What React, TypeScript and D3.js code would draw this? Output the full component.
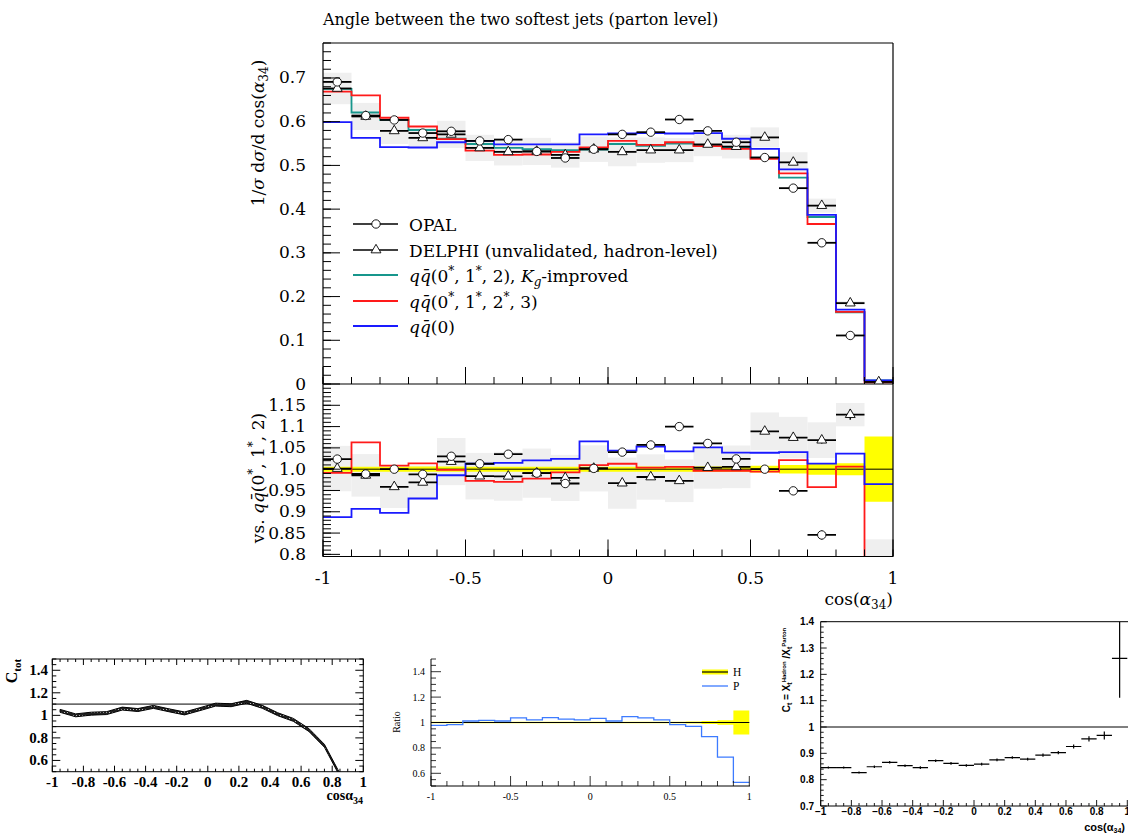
import React from 'react';
import * as d3 from 'd3';

// ---------- main plot data (20 bins in cos(alpha34), width 0.1) ----------
const binCount = 20;
const edges = d3.range(binCount + 1).map(i => -1 + i / 10);
const centers = d3.range(binCount).map(i => -0.95 + i / 10);

const opal = [0.691, 0.614, 0.604, 0.574, 0.578, 0.556, 0.559, 0.532, 0.517, 0.537, 0.571, 0.576, 0.605, 0.579, 0.553, 0.518, 0.448, 0.323, 0.111, null];
const opalErr = [0.005, 0.004, 0.004, 0.004, 0.004, 0.004, 0.004, 0.004, 0.004, 0.004, 0.004, 0.004, 0.004, 0.004, 0.004, 0.004, 0.004, 0.004, 0.003, 0.0];
const delphi = [0.676, 0.612, 0.579, 0.563, 0.571, 0.540, 0.531, 0.532, 0.524, 0.537, 0.531, 0.535, 0.535, 0.548, 0.543, 0.564, 0.507, 0.408, 0.185, 0.0047];
const delphiStatErr = [0.003, 0.003, 0.003, 0.003, 0.003, 0.003, 0.003, 0.003, 0.003, 0.003, 0.003, 0.003, 0.003, 0.003, 0.003, 0.003, 0.003, 0.003, 0.002, 0.0001];
const delphiErr = [0.036, 0.031, 0.030, 0.023, 0.031, 0.030, 0.031, 0.031, 0.029, 0.029, 0.033, 0.029, 0.0275, 0.027, 0.027, 0.023, 0.023, 0.016, 0.0045, 0.0024];
const mcKg = [0.675, 0.621, 0.604, 0.581, 0.561, 0.549, 0.540, 0.537, 0.535, 0.536, 0.549, 0.545, 0.550, 0.546, 0.540, 0.518, 0.472, 0.382, 0.164, 0.0085];
const mcKgErr = [0.0040, 0.0037, 0.0036, 0.0035, 0.0034, 0.0033, 0.0032, 0.0032, 0.0032, 0.0032, 0.0033, 0.0033, 0.0033, 0.0033, 0.0032, 0.0041, 0.0047, 0.0050, 0.0023, 0.00065];
const mc3 = [0.669, 0.660, 0.609, 0.589, 0.560, 0.534, 0.524, 0.525, 0.531, 0.541, 0.556, 0.547, 0.553, 0.544, 0.538, 0.515, 0.482, 0.366, 0.165, 0.0040];
const mc0 = [0.599, 0.563, 0.542, 0.541, 0.553, 0.556, 0.548, 0.548, 0.548, 0.571, 0.573, 0.574, 0.573, 0.574, 0.561, 0.538, 0.491, 0.387, 0.170, 0.0082];

const upperTicks = [0, 0.1, 0.2, 0.3, 0.4, 0.5, 0.6, 0.7];
const upperTickLabels = ['0', '0.1', '0.2', '0.3', '0.4', '0.5', '0.6', '0.7'];
const ratioTicks = [0.8, 0.85, 0.9, 0.95, 1.0, 1.05, 1.1, 1.15];
const ratioTickLabels = ['0.8', '0.85', '0.9', '0.95', '1.0', '1.05', '1.1', '1.15'];
const xTicks = [-1, -0.5, 0, 0.5, 1];
const xTickLabels = ['-1', '-0.5', '0', '0.5', '1'];

// ---------- bottom-left: C_tot ----------
const ctotX = [-0.95, -0.85, -0.75, -0.65, -0.55, -0.45, -0.35, -0.25, -0.15, -0.05, 0.05, 0.15, 0.25, 0.35, 0.45, 0.55, 0.65, 0.75, 0.85];
const ctot = [1.04, 1.00, 1.015, 1.02, 1.06, 1.047, 1.075, 1.045, 1.017, 1.055, 1.095, 1.09, 1.12, 1.076, 1.01, 0.96, 0.87, 0.73, 0.47];
const ctotLines = [1.1, 0.9];
const blTicksX = [-1, -0.8, -0.6, -0.4, -0.2, 0, 0.2, 0.4, 0.6, 0.8, 1];
const blTicksY = [0.6, 0.8, 1, 1.2, 1.4];

// ---------- bottom-middle: Ratio H / P ----------
const ratioP = [0.978, 0.983, 1.012, 1.017, 1.012, 1.036, 1.020, 1.039, 1.026, 1.020, 1.033, 1.012, 1.046, 1.036, 1.020, 0.983, 0.970, 0.888, 0.728, 0.528];
const ratioHErr = [0.006, 0.006, 0.006, 0.006, 0.006, 0.006, 0.006, 0.006, 0.006, 0.006, 0.006, 0.006, 0.006, 0.006, 0.006, 0.006, 0.008, 0.011, 0.018, 0.095];
const bmTicksY = [0.6, 0.8, 1, 1.2, 1.4];
const bmTicksX = [-1, -0.5, 0, 0.5, 1];

// ---------- bottom-right: C_t ----------
const ct = [0.846, 0.846, 0.827, 0.849, 0.866, 0.853, 0.846, 0.872, 0.862, 0.854, 0.859, 0.875, 0.884, 0.878, 0.893, 0.903, 0.926, 0.955, 0.968, 1.261];
const ctErr = [0.004, 0.004, 0.004, 0.005, 0.005, 0.005, 0.005, 0.005, 0.005, 0.005, 0.005, 0.005, 0.005, 0.005, 0.006, 0.006, 0.008, 0.010, 0.015, 0.15];
const brTicksX = [-1, -0.8, -0.6, -0.4, -0.2, 0, 0.2, 0.4, 0.6, 0.8, 1];
const brTicksY = [0.7, 0.8, 0.9, 1, 1.1, 1.2, 1.3, 1.4];

const TEAL = '#17968c';
const RED = '#ff1a1a';
const BLUE = '#1a1aff';
const SERIF = '"Liberation Serif", "Times New Roman", serif';
const MAINF = '"DejaVu Serif", "Liberation Serif", serif';
const SANS = '"Liberation Sans", Arial, sans-serif';

const fmtMinus = (v: number) => (v < 0 ? '\u2212' + String(-v) : String(v));

export default function App() {
  // main panels
  const x = d3.scaleLinear().domain([-1, 1]).range([323, 893]);
  const yU = d3.scaleLinear().domain([0, 0.78]).range([384, 43]);
  const yR = d3.scaleLinear().domain([0.795, 1.2]).range([556.5, 384]);

  const step = (vals: number[], ys: d3.ScaleLinear<number, number>) =>
    d3
      .line<number>()
      .x(d => x(d))
      .y((_, i) => ys(vals[Math.min(i, vals.length - 1)]))
      .curve(d3.curveStepAfter)(edges) as string;

  const bandRatio = d3
    .area<number>()
    .x(d => x(d))
    .y0((_, i) => { const k = Math.min(i, 19); return yR(1 - mcKgErr[k] / mcKg[k]); })
    .y1((_, i) => { const k = Math.min(i, 19); return yR(1 + mcKgErr[k] / mcKg[k]); })
    .curve(d3.curveStepAfter)(edges) as string;

  const tri = d3.symbol().type(d3.symbolTriangle).size(42)() as string;

  const dataPoints = (
    vals: (number | null)[],
    errs: number[],
    ys: d3.ScaleLinear<number, number>,
    marker: 'circle' | 'tri',
    ratio: boolean,
    key: string
  ) =>
    vals.map((v, i) => {
      if (v == null) return null;
      const val = ratio ? v / mcKg[i] : v;
      const e = ratio ? errs[i] / mcKg[i] : errs[i];
      const cx = x(centers[i]);
      const cy = ys(val);
      return (
        <g key={key + i}>
          <line x1={x(edges[i])} x2={x(edges[i + 1])} y1={cy} y2={cy} stroke="#000" strokeWidth={1.8} />
          <line x1={cx} x2={cx} y1={ys(val - e)} y2={ys(val + e)} stroke="#000" strokeWidth={1.4} />
          {marker === 'circle' ? (
            <circle cx={cx} cy={cy} r={4.2} fill="#fff" stroke="#000" strokeWidth={0.9} />
          ) : (
            <path d={tri} transform={`translate(${cx},${cy})`} fill="#fff" stroke="#000" strokeWidth={0.9} />
          )}
        </g>
      );
    });

  const delphiBoxes = (ys: d3.ScaleLinear<number, number>, ratio: boolean, key: string) =>
    delphi.map((v, i) => {
      const val = ratio ? v / mcKg[i] : v;
      const e = ratio ? delphiErr[i] / mcKg[i] : delphiErr[i];
      return (
        <rect
          key={key + i}
          x={x(edges[i])}
          width={x(edges[i + 1]) - x(edges[i])}
          y={ys(val + e)}
          height={ys(val - e) - ys(val + e)}
          fill="#efefef"
        />
      );
    });

  const minorX = d3.range(21).map(i => -1 + i / 10);
  const minorU = d3.range(40).map(i => i * 0.02).filter(v => v <= 0.78);
  const minorR = d3.range(40).map(i => 0.8 + i * 0.01).filter(v => v <= 1.195);

  // bottom-left
  const xL = d3.scaleLinear().domain([-1, 1]).range([52.3, 363.3]);
  const yL = d3.scaleLinear().domain([0.5, 1.5]).range([771.7, 659]);
  const bandL = d3
    .area<number>()
    .x((d, i) => xL(ctotX[i]))
    .y0(d => yL(d - 0.013))
    .y1(d => yL(d + 0.013))(ctot) as string;
  const blMinorX = d3.range(41).map(i => -1 + i * 0.05);
  const blMinorY = d3.range(21).map(i => 0.5 + i * 0.05);

  // bottom-middle
  const xM = d3.scaleLinear().domain([-1, 1]).range([431, 749.3]);
  const yM = d3.scaleLinear().domain([0.5, 1.5]).range([786, 659]);
  const stepM = d3
    .line<number>()
    .x(d => xM(d))
    .y((_, i) => yM(ratioP[Math.min(i, 19)]))
    .curve(d3.curveStepAfter)(edges) as string;
  const bandM = d3
    .area<number>()
    .x(d => xM(d))
    .y0((_, i) => yM(1 - ratioHErr[Math.min(i, 19)]))
    .y1((_, i) => yM(1 + ratioHErr[Math.min(i, 19)]))
    .curve(d3.curveStepAfter)(edges) as string;
  const bmMinorX = d3.range(21).map(i => -1 + i / 10);
  const bmMinorY = d3.range(21).map(i => 0.5 + i * 0.05);

  // bottom-right
  const xB = d3.scaleLinear().domain([-1, 1]).range([820.7, 1127.3]);
  const yB = d3.scaleLinear().domain([0.7, 1.4]).range([806, 621.7]);
  const brMinorX = d3.range(41).map(i => -1 + i * 0.05);
  const brMinorY = d3.range(36).map(i => 0.7 + i * 0.02).filter(v => v <= 1.4001);

  const legendY = [225, 251, 276, 302, 327];
  const FS = 17;
  const SUP = 12;

  return (
    <svg width={1128} height={835} style={{ position: 'absolute', left: 0, top: 0, background: '#fff' }}>
      <defs>
        <clipPath id="clipU"><rect x={323} y={43} width={570} height={341} /></clipPath>
        <clipPath id="clipR"><rect x={323} y={384} width={570} height={172.5} /></clipPath>
        <clipPath id="clipL"><rect x={52.3} y={659} width={311} height={112.7} /></clipPath>
        <clipPath id="clipB"><rect x={820.7} y={621.7} width={310} height={184.3} /></clipPath>
        <pattern id="dots" width={3} height={3} patternUnits="userSpaceOnUse">
          <rect width={3} height={3} fill="#222" />
          <rect x={1} y={1} width={1} height={1} fill="#bbb" />
        </pattern>
      </defs>

      {/* ================= MAIN PLOT ================= */}
      <text x={323} y={25} fontFamily={MAINF} fontSize={16}>Angle between the two softest jets (parton level)</text>

      {/* upper panel */}
      <g clipPath="url(#clipU)">
        {delphiBoxes(yU, false, 'bu')}
        <path d={step(mcKg, yU)} fill="none" stroke={TEAL} strokeWidth={1.8} />
        <path d={step(mc3, yU)} fill="none" stroke={RED} strokeWidth={1.8} />
        <path d={step(mc0, yU)} fill="none" stroke={BLUE} strokeWidth={1.8} />
        {dataPoints(delphi, delphiStatErr, yU, 'tri', false, 'du')}
        {dataPoints(opal, opalErr, yU, 'circle', false, 'ou')}
      </g>

      {/* ratio panel */}
      <g clipPath="url(#clipR)">
        {delphiBoxes(yR, true, 'br')}
        <path d={bandRatio} fill="#ffff00" />
        <line x1={323} x2={893} y1={yR(1)} y2={yR(1)} stroke="#000" strokeWidth={1} />
        <path d={step(mc3.map((v, i) => v / mcKg[i]), yR)} fill="none" stroke={RED} strokeWidth={1.8} />
        <path d={step(mc0.map((v, i) => v / mcKg[i]), yR)} fill="none" stroke={BLUE} strokeWidth={1.8} />
        {dataPoints(delphi, delphiStatErr, yR, 'tri', true, 'dr')}
        {dataPoints(opal, opalErr, yR, 'circle', true, 'or')}
      </g>

      {/* frame */}
      <line x1={323} x2={893} y1={43} y2={43} stroke="#000" strokeWidth={1.2} />
      <line x1={893} x2={893} y1={43} y2={556.5} stroke="#000" strokeWidth={1.2} />
      <line x1={323} x2={323} y1={43} y2={556.5} stroke="#000" strokeWidth={1.2} />
      <line x1={323} x2={893} y1={384} y2={384} stroke="#000" strokeWidth={1.2} />
      <line x1={323} x2={893} y1={556.5} y2={556.5} stroke="#000" strokeWidth={1.2} />

      {/* ticks upper left */}
      {minorU.map((v, i) => (
        <line key={'mu' + i} x1={323} x2={331} y1={yU(v)} y2={yU(v)} stroke="#000" strokeWidth={1} />
      ))}
      {upperTicks.map((v, i) => (
        <line key={'Mu' + i} x1={323} x2={340} y1={yU(v)} y2={yU(v)} stroke="#000" strokeWidth={1} />
      ))}
      {upperTicks.map((v, i) => (
        <text key={'lu' + i} x={306} y={yU(v) + 5.5} textAnchor="end" fontFamily={MAINF} fontSize={FS}>{upperTickLabels[i]}</text>
      ))}
      {/* ticks ratio left */}
      {minorR.map((v, i) => (
        <line key={'mr' + i} x1={323} x2={331} y1={yR(v)} y2={yR(v)} stroke="#000" strokeWidth={1} />
      ))}
      {ratioTicks.map((v, i) => (
        <line key={'Mr' + i} x1={323} x2={340} y1={yR(v)} y2={yR(v)} stroke="#000" strokeWidth={1} />
      ))}
      {ratioTicks.map((v, i) => (
        <text key={'lr' + i} x={306} y={yR(v) + 5.5} textAnchor="end" fontFamily={MAINF} fontSize={FS}>{ratioTickLabels[i]}</text>
      ))}
      {/* bottom ticks of both panels */}
      {[384, 556.5].map((by, j) => (
        <g key={'bt' + j}>
          {minorX.map((v, i) => (
            <line key={'mx' + i} x1={x(v)} x2={x(v)} y1={by} y2={by - 7} stroke="#000" strokeWidth={1} />
          ))}
          {xTicks.map((v, i) => (
            <line key={'Mx' + i} x1={x(v)} x2={x(v)} y1={by} y2={by - 17} stroke="#000" strokeWidth={1} />
          ))}
        </g>
      ))}
      {xTicks.map((v, i) => (
        <text key={'lx' + i} x={x(v)} y={584} textAnchor="middle" fontFamily={MAINF} fontSize={FS}>{xTickLabels[i]}</text>
      ))}
      <text x={893} y={605} textAnchor="end" fontFamily={MAINF} fontSize={FS}>
        cos(<tspan fontStyle="italic">α</tspan><tspan dy={4} fontSize={SUP}>34</tspan><tspan dy={-4}>)</tspan>
      </text>

      {/* y axis titles */}
      <text transform="translate(264,133) rotate(-90)" textAnchor="middle" fontFamily={MAINF} fontSize={FS}>
        1/<tspan fontStyle="italic">σ</tspan> d<tspan fontStyle="italic">σ</tspan>/d cos(<tspan fontStyle="italic">α</tspan><tspan dy={4} fontSize={SUP}>34</tspan><tspan dy={-4}>)</tspan>
      </text>
      <text transform="translate(264,478) rotate(-90)" textAnchor="middle" fontFamily={MAINF} fontSize={FS}>
        vs. <tspan fontStyle="italic">qq̄</tspan>(0<tspan dy={-7} fontSize={SUP}>*</tspan><tspan dy={7}>, 1</tspan><tspan dy={-7} fontSize={SUP}>*</tspan><tspan dy={7}>, 2)</tspan>
      </text>

      {/* legend */}
      <g>
        <line x1={353} x2={398} y1={legendY[0] - 1} y2={legendY[0] - 1} stroke="#000" strokeWidth={1.5} />
        <circle cx={376} cy={legendY[0] - 1} r={4.2} fill="#fff" stroke="#000" strokeWidth={0.9} />
        <text x={409} y={legendY[0] + 5.5} fontFamily={MAINF} fontSize={FS}>OPAL</text>

        <line x1={353} x2={398} y1={legendY[1] - 1} y2={legendY[1] - 1} stroke="#000" strokeWidth={1.5} />
        <path d={tri} transform={`translate(376,${legendY[1] - 1})`} fill="#fff" stroke="#000" strokeWidth={0.9} />
        <text x={409} y={legendY[1] + 5.5} fontFamily={MAINF} fontSize={FS}>DELPHI (unvalidated, hadron-level)</text>

        <line x1={353} x2={398} y1={legendY[2] - 1} y2={legendY[2] - 1} stroke={TEAL} strokeWidth={1.8} />
        <text x={409} y={legendY[2] + 5.5} fontFamily={MAINF} fontSize={FS}>
          <tspan fontStyle="italic">qq̄</tspan>(0<tspan dy={-7} fontSize={SUP}>*</tspan><tspan dy={7}>, 1</tspan><tspan dy={-7} fontSize={SUP}>*</tspan><tspan dy={7}>, 2), </tspan><tspan fontStyle="italic">K</tspan><tspan dy={4} fontSize={SUP} fontStyle="italic">g</tspan><tspan dy={-4}>-improved</tspan>
        </text>

        <line x1={353} x2={398} y1={legendY[3] - 1} y2={legendY[3] - 1} stroke={RED} strokeWidth={1.8} />
        <text x={409} y={legendY[3] + 5.5} fontFamily={MAINF} fontSize={FS}>
          <tspan fontStyle="italic">qq̄</tspan>(0<tspan dy={-7} fontSize={SUP}>*</tspan><tspan dy={7}>, 1</tspan><tspan dy={-7} fontSize={SUP}>*</tspan><tspan dy={7}>, 2</tspan><tspan dy={-7} fontSize={SUP}>*</tspan><tspan dy={7}>, 3)</tspan>
        </text>

        <line x1={353} x2={398} y1={legendY[4] - 1} y2={legendY[4] - 1} stroke={BLUE} strokeWidth={1.8} />
        <text x={409} y={legendY[4] + 5.5} fontFamily={MAINF} fontSize={FS}>
          <tspan fontStyle="italic">qq̄</tspan>(0)
        </text>
      </g>

      {/* ================= BOTTOM LEFT ================= */}
      <rect x={52.3} y={659} width={311} height={112.7} fill="none" stroke="#000" strokeWidth={1} />
      {blMinorX.map((v, i) => {
        const major = Math.abs(v * 5 - Math.round(v * 5)) < 1e-6;
        const len = major ? 6 : 3;
        return (
          <g key={'blx' + i}>
            <line x1={xL(v)} x2={xL(v)} y1={771.7} y2={771.7 - len} stroke="#000" />
            <line x1={xL(v)} x2={xL(v)} y1={659} y2={659 + len} stroke="#000" />
          </g>
        );
      })}
      {blMinorY.map((v, i) => {
        const major = Math.abs(v * 5 - Math.round(v * 5)) < 1e-6;
        const len = major ? 8 : 4;
        return (
          <g key={'bly' + i}>
            <line x1={52.3} x2={52.3 + len} y1={yL(v)} y2={yL(v)} stroke="#000" />
            <line x1={363.3} x2={363.3 - len} y1={yL(v)} y2={yL(v)} stroke="#000" />
          </g>
        );
      })}
      {ctotLines.map((v, i) => (
        <line key={'cl' + i} x1={52.3} x2={363.3} y1={yL(v)} y2={yL(v)} stroke="#000" strokeWidth={1} />
      ))}
      <g clipPath="url(#clipL)">
        <path d={bandL} fill="url(#dots)" stroke="#000" strokeWidth={1} />
      </g>
      {blTicksX.map((v, i) => (
        <text key={'blt' + i} x={xL(v)} y={787} textAnchor="middle" fontFamily={SERIF} fontWeight="bold" fontSize={15}>{String(v)}</text>
      ))}
      {blTicksY.map((v, i) => (
        <text key={'bltY' + i} x={48} y={yL(v) + 5} textAnchor="end" fontFamily={SERIF} fontWeight="bold" fontSize={15}>{String(v)}</text>
      ))}
      <text transform="translate(17,671) rotate(-90)" textAnchor="middle" fontFamily={SERIF} fontWeight="bold" fontSize={16}>
        C<tspan dy={4} fontSize={11}>tot</tspan>
      </text>
      <text x={363} y={800} textAnchor="end" fontFamily={SERIF} fontWeight="bold" fontSize={14}>
        cosα<tspan dy={4} fontSize={10}>34</tspan>
      </text>

      {/* ================= BOTTOM MIDDLE ================= */}
      <path d={bandM} fill="#ffff00" />
      <line x1={xM(-1)} x2={xM(1)} y1={yM(1)} y2={yM(1)} stroke="#000" strokeWidth={1} />
      <path d={stepM} fill="none" stroke="#3d7bff" strokeWidth={1.3} />
      <line x1={431} x2={431} y1={659} y2={786} stroke="#000" strokeWidth={1} />
      <line x1={431} x2={750} y1={786} y2={786} stroke="#000" strokeWidth={1} />
      {bmMinorY.map((v, i) => {
        const major = Math.abs(v * 5 - Math.round(v * 5)) < 1e-6;
        return <line key={'bmy' + i} x1={431} x2={431 + (major ? 10 : 5)} y1={yM(v)} y2={yM(v)} stroke="#000" strokeWidth={0.8} />;
      })}
      {bmMinorX.map((v, i) => {
        const major = Math.abs(v * 2 - Math.round(v * 2)) < 1e-6;
        return <line key={'bmx' + i} x1={xM(v)} x2={xM(v)} y1={786} y2={786 - (major ? 10 : 5)} stroke="#000" strokeWidth={0.8} />;
      })}
      {bmTicksY.map((v, i) => (
        <text key={'bmty' + i} x={425} y={yM(v) + 3.5} textAnchor="end" fontFamily={SERIF} fontSize={10}>{String(v)}</text>
      ))}
      {bmTicksX.map((v, i) => (
        <text key={'bmtx' + i} x={xM(v)} y={800} textAnchor="middle" fontFamily={SERIF} fontSize={10}>{String(v)}</text>
      ))}
      <text transform="translate(400,722) rotate(-90)" textAnchor="middle" fontFamily={SERIF} fontSize={10}>Ratio</text>
      <rect x={702} y={669.5} width={26} height={5} fill="#ffff00" />
      <line x1={702} x2={728} y1={672} y2={672} stroke="#000" strokeWidth={1.2} />
      <text x={733} y={676} fontFamily={SERIF} fontSize={11.5}>H</text>
      <line x1={702} x2={728} y1={686} y2={686} stroke="#3d7bff" strokeWidth={1.3} />
      <text x={733} y={690} fontFamily={SERIF} fontSize={11.5}>P</text>

      {/* ================= BOTTOM RIGHT ================= */}
      <line x1={820.7} x2={1128} y1={621.7} y2={621.7} stroke="#000" strokeWidth={1} />
      <line x1={820.7} x2={820.7} y1={621.7} y2={806} stroke="#000" strokeWidth={1} />
      <line x1={820.7} x2={1128} y1={806} y2={806} stroke="#000" strokeWidth={1} />
      <line x1={820.7} x2={1128} y1={yB(1)} y2={yB(1)} stroke="#000" strokeWidth={1} />
      {brMinorX.map((v, i) => {
        const major = Math.abs(v * 5 - Math.round(v * 5)) < 1e-6;
        return <line key={'brx' + i} x1={xB(v)} x2={xB(v)} y1={806} y2={806 - (major ? 6 : 3)} stroke="#000" strokeWidth={0.9} />;
      })}
      {brMinorY.map((v, i) => {
        const major = Math.abs(v * 10 - Math.round(v * 10)) < 1e-6;
        return <line key={'bry' + i} x1={820.7} x2={820.7 + (major ? 6 : 3)} y1={yB(v)} y2={yB(v)} stroke="#000" strokeWidth={0.9} />;
      })}
      <g clipPath="url(#clipB)">
        {ct.map((v, i) => (
          <g key={'ct' + i}>
            <line x1={xB(edges[i])} x2={xB(edges[i + 1])} y1={yB(v)} y2={yB(v)} stroke="#000" strokeWidth={1.2} />
            <line x1={xB(centers[i])} x2={xB(centers[i])} y1={yB(v - ctErr[i])} y2={yB(v + ctErr[i])} stroke="#000" strokeWidth={1.2} />
          </g>
        ))}
      </g>
      {brTicksY.map((v, i) => (
        <text key={'brty' + i} x={814} y={yB(v) + 3.5} textAnchor="end" fontFamily={SANS} fontWeight="bold" fontSize={10}>{String(v)}</text>
      ))}
      {brTicksX.map((v, i) => (
        <text key={'brtx' + i} x={xB(v)} y={815} textAnchor="middle" fontFamily={SANS} fontWeight="bold" fontSize={10}>{fmtMinus(v)}</text>
      ))}
      <text transform="translate(790,670) rotate(-90)" textAnchor="middle" fontFamily={SANS} fontWeight="bold" fontSize={10}>
        C<tspan dy={2} fontSize={7}>t</tspan><tspan dy={-2}> = X</tspan><tspan dy={2} fontSize={7}>t</tspan><tspan dy={-6} fontSize={6}>Hadron</tspan><tspan dy={4}> /X</tspan><tspan dy={2} fontSize={7}>t</tspan><tspan dy={-6} fontSize={6}>Parton</tspan>
      </text>
      <text x={1125} y={831} textAnchor="end" fontFamily={SANS} fontWeight="bold" fontSize={11}>
        cos(α<tspan dy={2} fontSize={7}>34</tspan><tspan dy={-2}>)</tspan>
      </text>
    </svg>
  );
}
